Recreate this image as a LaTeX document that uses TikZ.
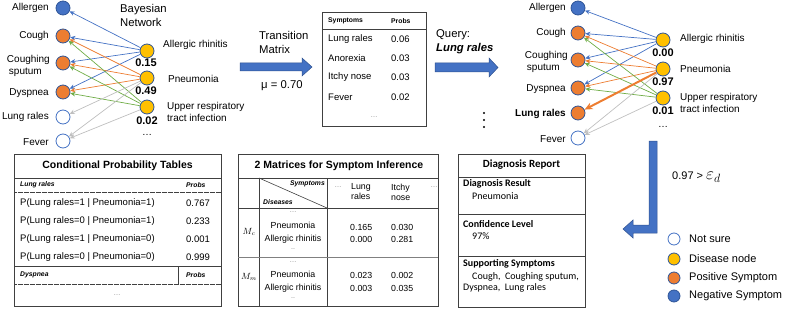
\documentclass[tikz,border=0pt]{standalone}
\usepackage{fontspec}
\setmainfont{Liberation Sans}
\newfontfamily\carlito{Carlito}
\usetikzlibrary{arrows.meta}
\definecolor{nblue}{HTML}{4472C4}
\definecolor{norange}{HTML}{ED7D31}
\definecolor{nyellow}{HTML}{FFC000}
\definecolor{nline}{HTML}{2F5597}
\definecolor{ngreen}{HTML}{70AD47}
\definecolor{ngray}{HTML}{BFBFBF}
\definecolor{aline}{HTML}{2F528F}
\definecolor{tline}{HTML}{404040}
\begin{document}
\begin{tikzpicture}[x=1pt,y=-1pt,
  sym/.style={circle,minimum size=14pt,inner sep=0pt,line width=0.8pt,draw=nline},
  posn/.style={sym,fill=norange},
  negn/.style={sym,fill=nblue},
  unsn/.style={sym,fill=white,draw=nblue},
  disn/.style={sym,fill=nyellow},
  lab/.style={font=\fontsize{10}{11.5}\selectfont,inner sep=0pt,align=left,anchor=east},
  dlab/.style={font=\fontsize{10}{11.5}\selectfont,inner sep=0pt,align=left,anchor=west},
  num/.style={font=\bfseries\fontsize{11}{12}\selectfont,inner sep=0pt},
  dots/.style={font=\fontsize{10}{11}\selectfont,inner sep=0pt},
  arr/.style={-{Stealth[length=5pt,width=4.5pt]}},
  eb/.style={draw=nblue,line width=0.7pt,arr},
  eo/.style={draw=norange,line width=0.7pt,arr},
  eg/.style={draw=ngreen,line width=0.7pt,arr},
  egr/.style={draw=ngray,line width=0.7pt,arr},
  barrow/.style={fill=nblue,draw=aline,line width=0.5pt},
  big/.style={font=\fontsize{11.3}{14}\selectfont,inner sep=0pt,align=left,anchor=west},
  tbl/.style={draw=tline,line width=0.9pt},
  th/.style={font=\bfseries\itshape\fontsize{6.8}{8}\selectfont,inner sep=0pt},
  thn/.style={font=\bfseries\fontsize{6.8}{8}\selectfont,inner sep=0pt,anchor=west},
  tt/.style={font=\fontsize{9.5}{11}\selectfont,inner sep=0pt,anchor=west},
  mt/.style={font=\fontsize{8.8}{10}\selectfont,inner sep=0pt},
  ttl/.style={font=\bfseries\fontsize{10.5}{12}\selectfont,inner sep=0pt},
  gd/.style={font=\fontsize{7}{8}\selectfont,inner sep=0pt,text=gray},
  dotl/.style={draw=tline,line width=0.6pt,dash pattern=on 0.6pt off 0.6pt},
  rt/.style={font=\carlito\fontsize{10}{12}\selectfont,inner sep=0pt,anchor=west},
  rtb/.style={font=\carlito\bfseries\fontsize{10}{12}\selectfont,inner sep=0pt,anchor=west},
  leg/.style={circle,minimum size=12pt,inner sep=0pt,line width=0.8pt,draw=nline},
  legt/.style={font=\fontsize{11}{13}\selectfont,inner sep=0pt,anchor=west}
]
\useasboundingbox (0,0) rectangle (789,310);

% ---------- left network ----------
\node[negn] (A0) at (63,8) {};
\node[posn] (C0) at (63,36) {};
\node[posn] (S0) at (63,63) {};
\node[posn] (D0) at (63,92) {};
\node[unsn] (L0) at (63,117) {};
\node[unsn] (F0) at (63,141) {};
\node[lab] (tA0) at (49,8) {Allergen};
\node[lab] (tC0) at (49,36) {Cough};
\node[lab] (tS0) at (50,66) {Coughing\\\hspace*{2pt}sputum};
\node[lab] (tD0) at (49,93) {Dyspnea};
\node[lab] (tL0) at (49,117) {Lung rales};
\node[lab] (tF0) at (49,142) {Fever};

\node[disn] (AR0) at (147,51) {};
\node[disn] (PN0) at (147,78) {};
\node[disn] (UR0) at (147,107) {};
\node[dlab] (tAR0) at (163,45) {Allergic rhinitis};
\node[dlab] (tPN0) at (168,79) {Pneumonia};
\node[dlab] (tUR0) at (167,112) {Upper respiratory\\tract infection};
\node[num] (nAR0) at (146,63) {0.15};
\node[num] (nPN0) at (146,91) {0.49};
\node[num] (nUR0) at (147,121) {0.02};
\node[dots] (dd0) at (147,135) {…};
\node[big] (bn) at (120,15.5) {Bayesian\\Network};

\draw[eb] (AR0) -- (A0);
\draw[eb] (AR0) -- (C0);
\draw[eb] (AR0) -- (S0);
\draw[eb] (AR0) -- (D0);
\draw[eo] (PN0) -- (C0);
\draw[eo] (PN0) -- (S0);
\draw[eo] (PN0) -- (D0);
\draw[eg] (UR0) -- (C0);
\draw[eg] (UR0) -- (S0);
\draw[eg] (UR0) -- (D0);
\draw[egr] (PN0) -- (L0);
\draw[egr] (PN0) -- (F0);
\draw[egr] (UR0) -- (F0);

% ---------- transition arrow ----------
\fill[barrow] (240,63) -- (302,63) -- (302,58) -- (312,67) -- (302,76) -- (302,71) -- (240,71) -- cycle;
\node[big] (tm) at (259,42) {Transition\\Matrix};
\node[big] (mu) at (261,86) {μ = 0.70};

% ---------- symptoms table ----------
\draw[tbl] (322,12) rectangle (426,126);
\draw[tbl] (322,29) -- (426,29);
\node[thn] (sh1) at (328,21) {Symptoms};
\node[thn] (sh2) at (391,21) {Probs};
\node[tt] (s1) at (328,39) {Lung rales};
\node[tt] (s2) at (328,58) {Anorexia};
\node[tt] (s3) at (328,77) {Itchy nose};
\node[tt] (s4) at (328,97) {Fever};
\node[tt] (p1) at (391,39) {0.06};
\node[tt] (p2) at (391,58) {0.03};
\node[tt] (p3) at (391,77) {0.03};
\node[tt] (p4) at (391,97) {0.02};
\node[gd] (sd) at (374,117) {…};

% ---------- query arrow ----------
\node[big] (q1) at (436,35) {Query:};
\node[big,font=\bfseries\itshape\fontsize{11.3}{14}\selectfont] (q2) at (436,49) {Lung rales};
\fill[barrow] (435,63) -- (489,63) -- (489,58) -- (498,67.5) -- (489,77) -- (489,72) -- (435,72) -- cycle;
\fill (484,113) circle (1.1);
\fill (484,120) circle (1.1);
\fill (484,127) circle (1.1);

% ---------- right network ----------
\node[negn] (A1) at (578,8) {};
\node[posn] (C1) at (578,33) {};
\node[posn] (S1) at (578,60) {};
\node[posn] (D1) at (578,88) {};
\node[posn] (L1) at (578,113) {};
\node[unsn] (F1) at (578,138) {};
\node[lab] (tA1) at (566,8) {Allergen};
\node[lab] (tC1) at (566,33) {Cough};
\node[lab] (tS1) at (568,62) {Coughing\\\hspace*{2pt}sputum};
\node[lab] (tD1) at (566,89) {Dyspnea};
\node[lab,font=\bfseries\fontsize{10}{11.5}\selectfont] (tL1) at (566,114) {Lung rales};
\node[lab] (tF1) at (566,139) {Fever};

\node[disn] (AR1) at (663,40) {};
\node[disn] (PN1) at (663,69) {};
\node[disn] (UR1) at (663,98) {};
\node[dlab] (tAR1) at (680,39) {Allergic rhinitis};
\node[dlab] (tPN1) at (680,69) {Pneumonia};
\node[dlab] (tUR1) at (680,103) {Upper respiratory\\tract infection};
\node[num] (nAR1) at (663,53) {0.00};
\node[num] (nPN1) at (663,82) {0.97};
\node[num] (nUR1) at (663,111) {0.01};
\node[dots] (dd1) at (663,127) {…};

\draw[eb] (AR1) -- (A1);
\draw[eb] (AR1) -- (C1);
\draw[eb] (AR1) -- (S1);
\draw[eb] (AR1) -- (D1);
\draw[eo] (PN1) -- (C1);
\draw[eo] (PN1) -- (S1);
\draw[eo] (PN1) -- (D1);
\draw[eg] (UR1) -- (C1);
\draw[eg] (UR1) -- (S1);
\draw[eg] (UR1) -- (D1);
\draw[draw=norange,line width=2pt,-{Stealth[length=8pt,width=7pt]}] (PN1) -- (L1);
\draw[egr] (PN1) -- (F1);
\draw[egr] (UR1) -- (F1);

% ---------- bent arrow ----------
\fill[barrow] (649,141) -- (657,141) -- (657,233) -- (633,233) -- (633,238) -- (623,229) -- (633,220) -- (633,225) -- (649,225) -- cycle;
\node[legt] (thr) at (672,177) {0.97 > {\fontsize{17}{18}\selectfont$\varepsilon_d$}};

% ---------- legend ----------
\node[leg,fill=white,draw=nblue] (g1) at (674,239) {};
\node[leg,fill=nyellow] (g2) at (674,259) {};
\node[leg,fill=norange] (g3) at (674,278) {};
\node[leg,fill=nblue] (g4) at (674,296) {};
\node[legt] (lg1) at (689,239) {Not sure};
\node[legt] (lg2) at (689,259) {Disease node};
\node[legt] (lg3) at (689,278) {Positive Symptom};
\node[legt] (lg4) at (689,296) {Negative Symptom};

% ---------- CPT table ----------
\draw[tbl] (14,154) rectangle (221,306);
\draw[tbl] (14,178) -- (221,178);
\node[ttl] (cpt) at (117.5,166) {Conditional Probability Tables};
\node[th,anchor=west] (c1) at (20,185) {Lung rales};
\node[th,anchor=west] (c2) at (186,185) {Probs};
\draw[dotl] (14,192) -- (221,192);
\node[tt] (r1) at (20,203) {P(Lung rales=1 | Pneumonia=1)};
\node[tt] (r2) at (20,221) {P(Lung rales=0 | Pneumonia=1)};
\node[tt] (r3) at (20,239) {P(Lung rales=1 | Pneumonia=0)};
\node[tt] (r4) at (20,257) {P(Lung rales=0 | Pneumonia=0)};
\node[tt] (v1) at (186,203) {0.767};
\node[tt] (v2) at (186,221) {0.233};
\node[tt] (v3) at (186,239) {0.001};
\node[tt] (v4) at (186,257) {0.999};
\draw[tbl] (14,266) -- (221,266);
\draw[tbl] (178,266) -- (178,284);
\node[th,anchor=west] (c3) at (20,275) {Dyspnea};
\node[th,anchor=west] (c4) at (186,275) {Probs};
\draw[dotl] (14,284) -- (221,284);
\node[gd] (cd) at (117,295) {…};

% ---------- matrices table ----------
\draw[tbl] (238,154) rectangle (438,306);
\draw[tbl] (238,178) -- (438,178);
\node[ttl] (mtt) at (339,166) {2 Matrices for Symptom Inference};
\draw[tbl] (259,178) -- (259,306);
\draw[tbl] (327,178) -- (327,306);
\draw[tbl,line width=0.6pt] (259,178) -- (327,208);
\draw[tbl] (238,208) -- (438,208);
\draw[draw=gray,line width=0.8pt] (238,257) -- (438,257);
\node[th,anchor=east] (m1) at (325,184) {Symptoms};
\node[th,anchor=west] (m2) at (263,202) {Diseases};
\node[gd] (m3) at (338,187) {…};
\node[gd] (m4) at (434,187) {…};
\node[mt,anchor=west,align=left] (m5) at (351,192) {Lung\\rales};
\node[mt,anchor=west,align=left] (m6) at (391,192) {Itchy\\nose};
\node[mt] (mc) at (249,232) {$M_c$};
\node[gd] (m7) at (293,212) {…};
\node[mt] (m8) at (293,225) {Pneumonia};
\node[mt] (m9) at (293,239) {Allergic rhinitis};
\node[gd] (m10) at (293,249) {..};
\node[mt,anchor=west] (m11) at (350,227) {0.165};
\node[mt,anchor=west] (m12) at (391,227) {0.030};
\node[mt,anchor=west] (m13) at (350,239) {0.000};
\node[mt,anchor=west] (m14) at (391,239) {0.281};
\node[mt] (mm) at (249,277) {$M_m$};
\node[gd] (m15) at (293,262) {…};
\node[mt] (m16) at (293,274) {Pneumonia};
\node[mt] (m17) at (293,288) {Allergic rhinitis};
\node[gd] (m18) at (293,298) {..};
\node[mt,anchor=west] (m19) at (350,275) {0.023};
\node[mt,anchor=west] (m20) at (391,275) {0.002};
\node[mt,anchor=west] (m21) at (350,288) {0.003};
\node[mt,anchor=west] (m22) at (391,288) {0.035};

% ---------- diagnosis report ----------
\draw[tbl] (458,154) rectangle (585,307);
\draw[tbl] (458,177) -- (585,177);
\draw[tbl] (458,214) -- (585,214);
\draw[tbl] (458,256) -- (585,256);
\node[font=\carlito\bfseries\fontsize{11}{13}\selectfont,inner sep=0pt] (drt) at (521.5,165) {Diagnosis Report};
\node[rtb] (d1) at (463,184) {Diagnosis Result};
\node[rt] (d2) at (472,196) {Pneumonia};
\node[rtb] (d3) at (463,224) {Confidence Level};
\node[rt] (d4) at (472,236) {97\%};
\node[rtb] (d5) at (463,264) {Supporting Symptoms};
\node[rt] (d6) at (472,276.5) {Cough,\ \ Coughing sputum,};
\node[rt] (d7) at (463,288) {Dyspnea,\ \ Lung rales};
\end{tikzpicture}
\end{document}
